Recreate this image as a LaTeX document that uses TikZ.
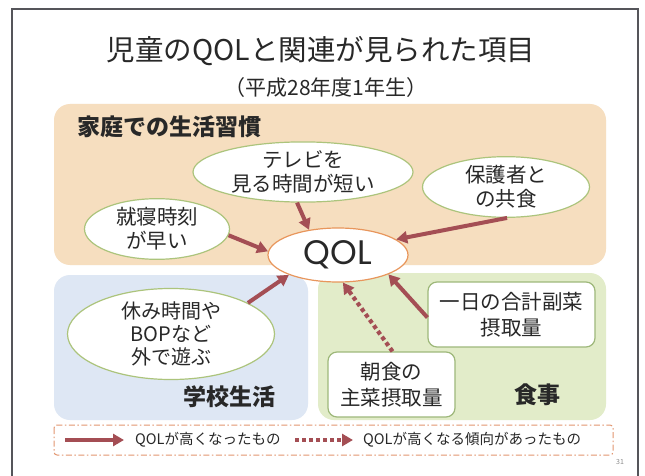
\documentclass[tikz,border=0pt]{standalone}
\usepackage{fontspec}
\setmainfont{Noto Sans CJK JP}
\newfontfamily\qolfont{Poppins}
\usetikzlibrary{shapes.geometric,arrows.meta}
\definecolor{homec}{RGB}{246,222,191}
\definecolor{schoolc}{RGB}{222,231,244}
\definecolor{mealc}{RGB}{226,236,201}
\definecolor{arrowc}{RGB}{164,78,84}
\definecolor{ellc}{RGB}{172,196,124}
\definecolor{qolc}{RGB}{232,150,92}
\definecolor{boxc}{RGB}{158,184,122}
\definecolor{legc}{RGB}{226,150,112}
\definecolor{framec}{RGB}{85,85,90}
\definecolor{txt}{RGB}{40,40,40}
\begin{document}
\begin{tikzpicture}[x=1pt,y=-1pt,
  arr/.style={line width=4pt, draw=arrowc, -{Triangle[length=11pt,width=12pt]}},
  dotarr/.style={line width=4.2pt, draw=arrowc, dash pattern=on 4pt off 3pt, -{Triangle[length=11pt,width=12pt]}},
  ell/.style={ellipse, draw=ellc, line width=1.2pt, fill=white, inner sep=0pt, align=center, text=txt, font=\fontsize{20.5}{24}\selectfont},
  boxn/.style={rectangle, rounded corners=9pt, draw=boxc, line width=1.2pt, fill=white, inner sep=0pt, align=center, text=txt, font=\fontsize{20.5}{26}\selectfont},
  region/.style={rounded corners=16pt},
  rlabel/.style={text=txt, font=\bfseries\fontsize{23}{26}\selectfont, inner sep=0pt},
  legtext/.style={anchor=west, text=txt, inner sep=0pt, font=\fontsize{14.5}{16}\selectfont}
]
\useasboundingbox (0,0) rectangle (645,476);
\fill[white] (0,0) rectangle (645,476);
% frame
\draw[framec, line width=2pt] (12,480) -- (12,9) -- (638,9) -- (638,480);
% title
\node[text=txt, inner sep=0pt, font=\fontsize{28.5}{30}\selectfont] (title) at (321,51) {児童のQOLと関連が見られた項目};
\node[text=txt, inner sep=0pt, font=\fontsize{21}{24}\selectfont] (subtitle) at (326,88) {（平成28年度1年生）};
% regions
\fill[homec, region] (54,104) rectangle (606,265);
\fill[schoolc, region] (54,275) rectangle (308,420);
\fill[mealc, region] (318,273) rectangle (606,420);
\node[rlabel, anchor=west] (lblhome) at (77,127) {家庭での生活習慣};
\node[rlabel] (lblschool) at (229,397) {学校生活};
\node[rlabel] (lblmeal) at (537,395) {食事};
% nodes
\node[ell, minimum width=220pt, minimum height=60pt] (tv) at (303,172) {テレビを\\見る時間が短い};
\node[ell, minimum width=167pt, minimum height=55pt] (hogo) at (506,187) {保護者と\\の共食};
\node[ell, minimum width=145pt, minimum height=58pt] (shushin) at (157,229) {就寝時刻\\が早い};
\node[ellipse, draw=qolc, line width=1.2pt, fill=white, inner sep=0pt, minimum width=140pt, minimum height=54pt, text=txt, font=\qolfont\fontsize{34}{36}\selectfont] (qol) at (338,255) {QOL};
\node[ell, minimum width=207pt, minimum height=87pt, font=\fontsize{20}{23}\selectfont] (yasumi) at (171,334) {休み時間や\\BOPなど\\外で遊ぶ};
\node[boxn, minimum width=167pt, minimum height=65pt] (ichi) at (511.5,314.5) {一日の合計副菜\\摂取量};
\node[boxn, minimum width=127pt, minimum height=65pt] (asa) at (391.5,384.5) {朝食の\\主菜摂取量};
% connectors
\draw[arr] (tv.-101) -- (qol.139);
\draw[arr] (shushin.-5) -- (qol.177);
\draw[arr] (hogo.-88) -- (qol.15);
\draw[arr] (yasumi.22) -- (qol.202);
\draw[arr] ([yshift=-3pt]ichi.west) -- (qol.-21);
\draw[dotarr] ([xshift=1pt]asa.north) -- (qol.-80);
% legend
\draw[legc, line width=1pt, rounded corners=3pt, dash pattern=on 6pt off 2.5pt on 1.5pt off 2.5pt] (54,425) rectangle (613,455);
\coordinate (l1s) at (65,440);
\coordinate (l1e) at (124,440);
\coordinate (l2s) at (295,440);
\coordinate (l2e) at (353,440);
\draw[arr] (l1s) -- (l1e);
\node[legtext] (leg1) at (135,440) {QOLが高くなったもの};
\draw[dotarr] (l2s) -- (l2e);
\node[legtext] (leg2) at (363,440) {QOLが高くなる傾向があったもの};
\node[text=black!45, inner sep=0pt, font=\fontsize{7}{8}\selectfont] (pnum) at (620,462) {31};
\end{tikzpicture}
\end{document}
